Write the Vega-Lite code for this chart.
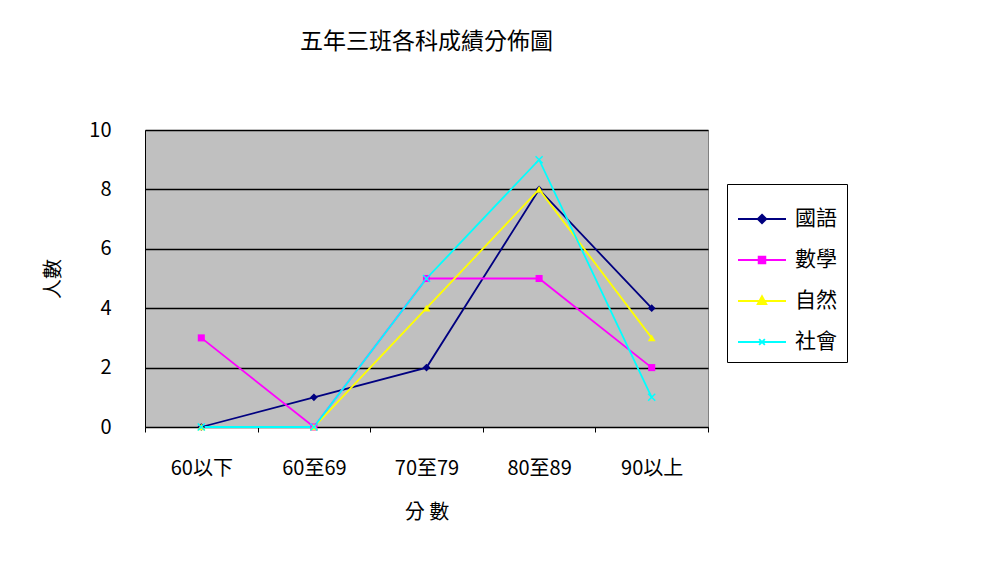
{
  "$schema": "https://vega.github.io/schema/vega-lite/v6.json",
  "width": 563,
  "height": 297,
  "autosize": {"type": "none"},
  "padding": {"left": 145, "top": 130, "right": 300, "bottom": 151},
  "background": "white",
  "config": {
    "font": "Noto Sans CJK TC",
    "view": {"fill": "#c0c0c0", "stroke": "#808080", "strokeWidth": 1}
  },
  "title": {
    "text": "五年三班各科成績分佈圖",
    "fontSize": 23,
    "fontWeight": "normal",
    "color": "black",
    "anchor": "middle",
    "offset": 66
  },
  "data": {
    "values": [
      {"subject": "國語", "range": "60以下", "count": 0},
      {"subject": "國語", "range": "60至69", "count": 1},
      {"subject": "國語", "range": "70至79", "count": 2},
      {"subject": "國語", "range": "80至89", "count": 8},
      {"subject": "國語", "range": "90以上", "count": 4},
      {"subject": "數學", "range": "60以下", "count": 3},
      {"subject": "數學", "range": "60至69", "count": 0},
      {"subject": "數學", "range": "70至79", "count": 5},
      {"subject": "數學", "range": "80至89", "count": 5},
      {"subject": "數學", "range": "90以上", "count": 2},
      {"subject": "自然", "range": "60以下", "count": 0},
      {"subject": "自然", "range": "60至69", "count": 0},
      {"subject": "自然", "range": "70至79", "count": 4},
      {"subject": "自然", "range": "80至89", "count": 8},
      {"subject": "自然", "range": "90以上", "count": 3},
      {"subject": "社會", "range": "60以下", "count": 0},
      {"subject": "社會", "range": "60至69", "count": 0},
      {"subject": "社會", "range": "70至79", "count": 5},
      {"subject": "社會", "range": "80至89", "count": 9},
      {"subject": "社會", "range": "90以上", "count": 1}
    ]
  },
  "encoding": {
    "x": {
      "field": "range",
      "type": "nominal",
      "sort": ["60以下", "60至69", "70至79", "80至89", "90以上"],
      "scale": {"type": "band", "paddingInner": 0, "paddingOuter": 0},
      "axis": {
        "title": "分 數",
        "labelAngle": 0,
        "tickBand": "extent",
        "grid": false,
        "domainColor": "black",
        "tickColor": "black",
        "tickSize": 5,
        "labelFontSize": 20,
        "labelColor": "black",
        "labelPadding": 26,
        "titleFontSize": 20,
        "titleFontWeight": "normal",
        "titleColor": "black",
        "titlePadding": 24
      }
    },
    "y": {
      "field": "count",
      "type": "quantitative",
      "scale": {"domain": [0, 10]},
      "axis": {
        "title": "人數",
        "values": [0, 2, 4, 6, 8, 10],
        "grid": true,
        "gridColor": "black",
        "gridWidth": 1.5,
        "ticks": false,
        "domainColor": "black",
        "labelFontSize": 20,
        "labelColor": "black",
        "labelPadding": 34,
        "titleFontSize": 20,
        "titleFontWeight": "normal",
        "titleColor": "black",
        "titlePadding": 25
      }
    },
    "color": {
      "field": "subject",
      "type": "nominal",
      "scale": {
        "domain": ["國語", "數學", "自然", "社會"],
        "range": ["#000080", "#ff00ff", "#ffff00", "#00ffff"]
      },
      "legend": {
        "title": null,
        "orient": "none",
        "legendX": 582,
        "legendY": 54,
        "strokeColor": "black",
        "padding": 10,
        "labelFontSize": 21,
        "labelColor": "black",
        "labelOffset": 8,
        "symbolSize": 2304,
        "rowPadding": 6,
        "symbolStrokeWidth": 1.8,
        "encode": {
          "symbols": {
            "update": {
              "shape": {"signal": "datum.value === '國語' ? 'M-1,0H1M0,-0.18L0.18,0L0,0.18L-0.18,0Z' : datum.value === '數學' ? 'M-1,0H1M-0.14,-0.14H0.14V0.14H-0.14Z' : datum.value === '自然' ? 'M-1,0H1M0,-0.2L0.18,0.13H-0.18Z' : 'M-1,0H1M-0.12,-0.12L0.12,0.12M-0.12,0.12L0.12,-0.12'"},
              "fill": {"scale": "color", "field": "value"},
              "stroke": {"scale": "color", "field": "value"}
            }
          }
        }
      }
    }
  },
  "layer": [
    {"mark": {"type": "line", "strokeWidth": 1.8}},
    {
      "transform": [{"filter": "datum.subject === '國語'"}],
      "mark": {"type": "point", "shape": "diamond", "filled": true, "size": 60, "opacity": 1}
    },
    {
      "transform": [{"filter": "datum.subject === '數學'"}],
      "mark": {"type": "point", "shape": "square", "filled": true, "size": 50, "opacity": 1}
    },
    {
      "transform": [{"filter": "datum.subject === '自然'"}],
      "mark": {"type": "point", "shape": "triangle-up", "filled": true, "size": 60, "opacity": 1}
    },
    {
      "transform": [{"filter": "datum.subject === '社會'"}],
      "mark": {"type": "point", "shape": "M-1,-1L1,1M-1,1L1,-1", "filled": false, "size": 50, "opacity": 1, "strokeWidth": 1.5}
    }
  ]
}
